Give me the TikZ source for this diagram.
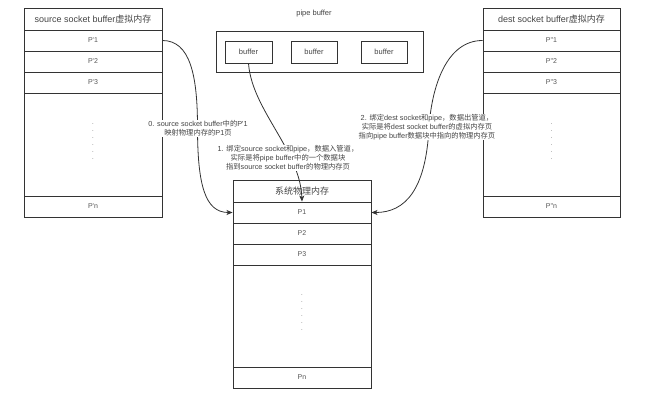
\documentclass[tikz,border=0pt]{standalone}
\usepackage{fontspec}
\setmainfont{Liberation Sans}
\newfontfamily\cjk{Noto Sans CJK SC}
\usetikzlibrary{arrows.meta}
\newcommand{\qq}{\textquotesingle}
\definecolor{ln}{HTML}{333333}
\definecolor{tx}{HTML}{444444}
\definecolor{tg}{HTML}{555555}
\begin{document}
\begin{tikzpicture}[x=1pt,y=-1pt,
  cell/.style={draw=ln,line width=0.9pt,inner sep=0pt,text=tg,font=\fontsize{7}{8}\selectfont},
  ttl/.style={cell,text=tx,font=\fontsize{9}{10}\selectfont},
  lbl/.style={fill=white,inner sep=0.5pt,text=tx,align=center,font=\fontsize{7.3}{9}\selectfont},
  arr/.style={draw=ln,line width=0.8pt,-{Stealth[length=6pt,width=5pt,inset=1.5pt]}},
  dots/.style={inner sep=0pt,text=tg,align=center,font=\fontsize{6}{7}\selectfont}]
\useasboundingbox (0,0) rectangle (650,404);
% left column
\node[ttl,minimum width=138pt,minimum height=22pt] (sT) at (93,19) {source socket buffer{\cjk 虚拟内存}};
\node[cell,minimum width=138pt,minimum height=21pt] (sP1) at (93,40.5) {P\qq1};
\node[cell,minimum width=138pt,minimum height=21pt] (sP2) at (93,61.5) {P\qq2};
\node[cell,minimum width=138pt,minimum height=21pt] (sP3) at (93,82.5) {P\qq3};
\node[cell,minimum width=138pt,minimum height=103pt] (sE) at (93,144.5) {};
\node[cell,minimum width=138pt,minimum height=21pt] (sPn) at (93,206.5) {P\qq n};
\node[dots] (sD) at (93,142) {.\\.\\.\\.\\.\\.};
% right column
\node[ttl,minimum width=137pt,minimum height=22pt] (dT) at (551.5,19) {dest socket buffer{\cjk 虚拟内存}};
\node[cell,minimum width=137pt,minimum height=21pt] (dP1) at (551.5,40.5) {P\qq\qq1};
\node[cell,minimum width=137pt,minimum height=21pt] (dP2) at (551.5,61.5) {P\qq\qq2};
\node[cell,minimum width=137pt,minimum height=21pt] (dP3) at (551.5,82.5) {P\qq\qq3};
\node[cell,minimum width=137pt,minimum height=103pt] (dE) at (551.5,144.5) {};
\node[cell,minimum width=137pt,minimum height=21pt] (dPn) at (551.5,206.5) {P\qq\qq n};
\node[dots] (dD) at (551.5,142) {.\\.\\.\\.\\.\\.};
% middle column
\node[ttl,minimum width=138pt,minimum height=22pt] (mT) at (302,191) {\cjk 系统物理内存};
\node[cell,minimum width=138pt,minimum height=21pt] (mP1) at (302,212.5) {P1};
\node[cell,minimum width=138pt,minimum height=21pt] (mP2) at (302,233.5) {P2};
\node[cell,minimum width=138pt,minimum height=21pt] (mP3) at (302,254.5) {P3};
\node[cell,minimum width=138pt,minimum height=102pt] (mE) at (302,316) {};
\node[cell,minimum width=138pt,minimum height=21pt] (mPn) at (302,377.5) {Pn};
\node[dots] (mD) at (302,313) {.\\.\\.\\.\\.\\.};
% pipe buffer
\node[text=tx,font=\fontsize{7.5}{9}\selectfont] (pL) at (314,14) {pipe buffer};
\node[cell,minimum width=207pt,minimum height=41pt] (pB) at (319.5,51.5) {};
\node[cell,text=tx,font=\fontsize{7.5}{9}\selectfont,minimum width=47pt,minimum height=22pt] (b1) at (248.5,52) {buffer};
\node[cell,text=tx,font=\fontsize{7.5}{9}\selectfont,minimum width=46pt,minimum height=22pt] (b2) at (314,52) {buffer};
\node[cell,text=tx,font=\fontsize{7.5}{9}\selectfont,minimum width=46pt,minimum height=22pt] (b3) at (384,52) {buffer};
% connectors
\coordinate (m0) at (197.5,127);
\coordinate (m2) at (429,127);
\draw[arr] (sP1.east) .. controls (190,40.5) and (197.5,75) .. (m0)
  .. controls (197.5,185) and (205,212.5) .. (mP1.west);
\draw[arr] (b1.south) .. controls (252,110) and (300,150) .. (mP1.north);
\draw[arr] (dP1.west) .. controls (447,40.5) and (432,85) .. (m2)
  .. controls (426,190) and (405,212.5) .. (mP1.east);
% labels
\node[lbl] (l0) at (198,128.5) {0. source socket buffer{\cjk 中的}P\qq1\\{\cjk 映射物理内存的}P1{\cjk 页}};
\node[lbl] (l1) at (288,158) {1. {\cjk 绑定}source socket{\cjk 和}pipe{\cjk ，数据入管道，}\\{\cjk 实际是将}pipe buffer{\cjk 中的一个数据块}\\{\cjk 指到}source socket buffer{\cjk 的物理内存页}};
\node[lbl] (l2) at (427,127) {2. {\cjk 绑定}dest socket{\cjk 和}pipe{\cjk ，数据出管道，}\\{\cjk 实际是将}dest socket buffer{\cjk 的虚拟内存页}\\{\cjk 指向}pipe buffer{\cjk 数据块中指向的物理内存页}};
\end{tikzpicture}
\end{document}
